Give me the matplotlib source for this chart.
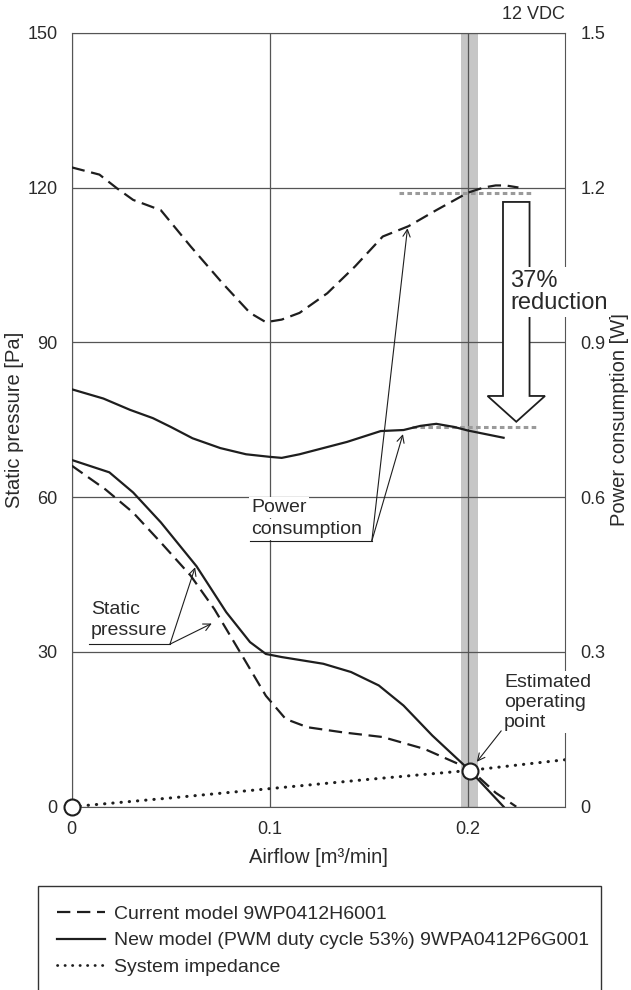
import matplotlib
matplotlib.use("Agg")
import matplotlib.pyplot as plt
from matplotlib.patches import FancyArrow, Rectangle
from matplotlib.lines import Line2D

plt.rcParams['font.family'] = ['Liberation Sans', 'DejaVu Sans']

# ---------------- data ----------------
cur_power_x = [0, 0.014, 0.023, 0.031, 0.045, 0.060, 0.076, 0.090, 0.098, 0.106, 0.115,
               0.129, 0.143, 0.157, 0.170, 0.184, 0.200, 0.208, 0.214, 0.219, 0.2255]
cur_power_w = [1.239, 1.225, 1.198, 1.176, 1.156, 1.086, 1.015, 0.957, 0.939, 0.944, 0.957,
               0.995, 1.047, 1.105, 1.125, 1.156, 1.190, 1.200, 1.204, 1.204, 1.200]

new_power_x = [0, 0.016, 0.0295, 0.041, 0.050, 0.061, 0.075, 0.088, 0.100, 0.106, 0.115,
               0.125, 0.139, 0.156, 0.1675, 0.176, 0.184, 0.193, 0.200, 0.218]
new_power_w = [0.809, 0.791, 0.769, 0.753, 0.736, 0.714, 0.695, 0.683, 0.678, 0.676, 0.683,
               0.693, 0.707, 0.728, 0.730, 0.738, 0.742, 0.736, 0.729, 0.715]

new_static_x = [0, 0.019, 0.031, 0.045, 0.063, 0.078, 0.090, 0.098, 0.106, 0.127, 0.141,
                0.155, 0.1675, 0.182, 0.201, 0.208, 0.218]
new_static_pa = [67.2, 64.8, 60.9, 55.1, 46.6, 37.7, 31.9, 29.6, 29.0, 27.7, 26.1,
                 23.5, 19.6, 13.8, 7.0, 4.1, 0]

cur_static_x = [0, 0.017, 0.031, 0.045, 0.060, 0.072, 0.086, 0.098, 0.108, 0.119, 0.137,
                0.157, 0.178, 0.201, 0.214, 0.2244]
cur_static_pa = [66.1, 61.5, 57.0, 51.2, 44.8, 38.3, 29.3, 21.5, 17.0, 15.4, 14.4,
                 13.5, 11.2, 7.3, 2.7, 0]

imp_x = [0, 0.05, 0.10, 0.15, 0.20, 0.249]
imp_pa = [0, 1.7, 3.5, 5.3, 7.0, 9.1]

op_points_x = [0, 0.2008]
op_points_pa = [0, 7.0]

cur_ref_w = 1.189     # current model power at operating point
new_ref_w = 0.735     # new model power at operating point

x_ticks = [0, 0.1, 0.2]
x_tick_labels = ['0', '0.1', '0.2']
y_ticks = [0, 30, 60, 90, 120, 150]
y2_ticks = [0, 0.3, 0.6, 0.9, 1.2, 1.5]
y2_tick_labels = ['0', '0.3', '0.6', '0.9', '1.2', '1.5']

legend_labels = ['Current model 9WP0412H6001',
                 'New model (PWM duty cycle 53%) 9WPA0412P6G001',
                 'System impedance']

# ---------------- figure ----------------
W, H = 631, 990
fig = plt.figure(figsize=(W / 100, H / 100), dpi=100)
ax = fig.add_axes([71.7 / W, 1 - 806.7 / H, (565 - 71.7) / W, (806.7 - 32.7) / H])
ax2 = ax.twinx()

TXT = '#2a2a2a'
GRID = '#555555'
LW = 1.6
DASH = (0, (6, 3))
FS = 14

ax.set_xlim(0, 0.249)
ax.set_ylim(0, 150)
ax2.set_ylim(0, 1.5)

ax.set_axisbelow(True)
ax.set_xticks(x_ticks)
ax.set_xticklabels(x_tick_labels)
ax.set_yticks(y_ticks)
ax2.set_yticks(y2_ticks)
ax2.set_yticklabels(y2_tick_labels)
ax.grid(True, color=GRID, lw=0.9)
ax.tick_params(length=0, pad=10, labelsize=13, colors=TXT)
ax2.tick_params(length=0, pad=11, labelsize=13, colors=TXT)

for s in ['top', 'left', 'bottom']:
    ax.spines[s].set_color(GRID)
ax.spines['right'].set_visible(False)
for s in ['top', 'left', 'bottom']:
    ax2.spines[s].set_visible(False)
ax2.spines['right'].set_color(GRID)

# operating-point band
ax.axvspan(0.1966, 0.2052, color='#c6c6c6', lw=0, zorder=0.2)

# curves
ax2.plot(cur_power_x, cur_power_w, color='#1e1e1e', lw=LW, ls=DASH, zorder=3)
ax2.plot(new_power_x, new_power_w, color='#1e1e1e', lw=LW, zorder=3)
ax.plot(cur_static_x, cur_static_pa, color='#1e1e1e', lw=LW, ls=DASH, zorder=3)
ax.plot(new_static_x, new_static_pa, color='#1e1e1e', lw=LW, zorder=3)
ax.plot(imp_x, imp_pa, color='#1e1e1e', lw=2.2, ls=(0, (0.1, 2.6)),
        dash_capstyle='round', zorder=3)
ax.plot(op_points_x, op_points_pa, 'o', ms=11.5, mfc='white', mec='#1e1e1e',
        mew=1.5, zorder=6, clip_on=False)

# reference dotted gray lines
ax2.plot([0.165, 0.2325], [cur_ref_w, cur_ref_w], color='#9a9a9a', lw=2.2,
         ls=(0, (1.5, 1.1)), zorder=2.5)
ax2.plot([0.1717, 0.2346], [new_ref_w, new_ref_w], color='#9a9a9a', lw=2.2,
         ls=(0, (1.5, 1.1)), zorder=2.5)

# big hollow arrow
ax.add_patch(FancyArrow(0.2244, 117.2, 0, -(117.2 - 74.6), width=0.0134,
                        head_width=0.029, head_length=5.0, length_includes_head=True,
                        fc='white', ec='#1e1e1e', lw=1.3, zorder=4))
ax2.text(0.2215, 104.1, '37%\nreduction', transform=ax.transData, fontsize=17,
         color=TXT, va='top', ha='left', linespacing=1.02, zorder=10, clip_on=False,
         bbox=dict(fc='white', ec='none', pad=2))

# annotations
ann_kw = dict(arrowstyle='->', lw=0.8, color='#1e1e1e', shrinkA=0, shrinkB=0,
              mutation_scale=13)

# Power consumption
ax2.text(0.0905, 57.1, 'Power', transform=ax.transData, fontsize=FS, color=TXT,
         va='baseline', ha='left', zorder=10, bbox=dict(fc='white', ec='none', pad=1.5))
ax2.text(0.0905, 52.9, 'consumption', transform=ax.transData, fontsize=FS, color=TXT,
         va='baseline', ha='left', zorder=10, bbox=dict(fc='white', ec='none', pad=1.5))
ax.plot([0.0901, 0.1515], [51.5, 51.5], color='#1e1e1e', lw=0.8, zorder=5)
ax.annotate('', xy=(0.1695, 112.1), xytext=(0.1515, 51.5), arrowprops=ann_kw, zorder=5)
ax.annotate('', xy=(0.1672, 72.2), xytext=(0.1515, 51.5), arrowprops=ann_kw, zorder=5)

# Static pressure
ax.text(0.0097, 39.8, 'Static\npressure', fontsize=FS, color=TXT, va='top', ha='left',
        linespacing=1.25, zorder=5)
ax.plot([0.0089, 0.0496], [31.5, 31.5], color='#1e1e1e', lw=0.8, zorder=5)
ax.annotate('', xy=(0.0623, 46.4), xytext=(0.0496, 31.5), arrowprops=ann_kw, zorder=5)
ax.annotate('', xy=(0.0707, 35.5), xytext=(0.0496, 31.5), arrowprops=ann_kw, zorder=5)

# Estimated operating point
ax2.text(0.2183, 25.8, 'Estimated\noperating\npoint', transform=ax.transData,
         fontsize=FS, color=TXT, va='top', ha='left', linespacing=1.24, zorder=10,
         clip_on=False, bbox=dict(fc='white', ec='none', pad=1.5))
ax.annotate('', xy=(0.2045, 8.7), xytext=(0.2168, 14.7), arrowprops=ann_kw, zorder=7)

# 12 VDC
ax.text(1.0, 1.012, '12 VDC', transform=ax.transAxes, fontsize=13, color=TXT,
        ha='right', va='bottom')

# axis labels
ax.set_xlabel('Airflow [m\u00b3/min]', fontsize=14.5, color=TXT)
ax.xaxis.set_label_coords(0.5, -(848 - 806.7) / 774)
ax.xaxis.label.set_va('top')
ax.set_ylabel('Static pressure [Pa]', fontsize=14.5, color=TXT)
ax.yaxis.set_label_coords((24 - 71.7) / 493.3, 0.5)
ax2.set_ylabel('Power consumption [W]', fontsize=14.5, color=TXT)
ax2.yaxis.set_label_coords((610 - 71.7) / 493.3, 0.5)

# legend box
fig.patches.append(Rectangle((38.3 / W, -0.02), (601 - 38.3) / W, 0.02 + 1 - 885.7 / H,
                             transform=fig.transFigure, fill=False, ec='#333333', lw=1.0))
handles = [Line2D([], [], color='#1e1e1e', lw=LW, ls=DASH),
           Line2D([], [], color='#1e1e1e', lw=LW),
           Line2D([], [], color='#1e1e1e', lw=2.0, ls=(0, (0.1, 2.6)), dash_capstyle='round')]
fig.legend(handles, legend_labels, loc='upper left',
           bbox_to_anchor=(56.7 / W, 1 - 905 / H), frameon=False, fontsize=14,
           handlelength=2.5, handletextpad=0.45, labelspacing=0.47,
           borderpad=0, borderaxespad=0, labelcolor=TXT)

fig.savefig('out.png', dpi=100)
